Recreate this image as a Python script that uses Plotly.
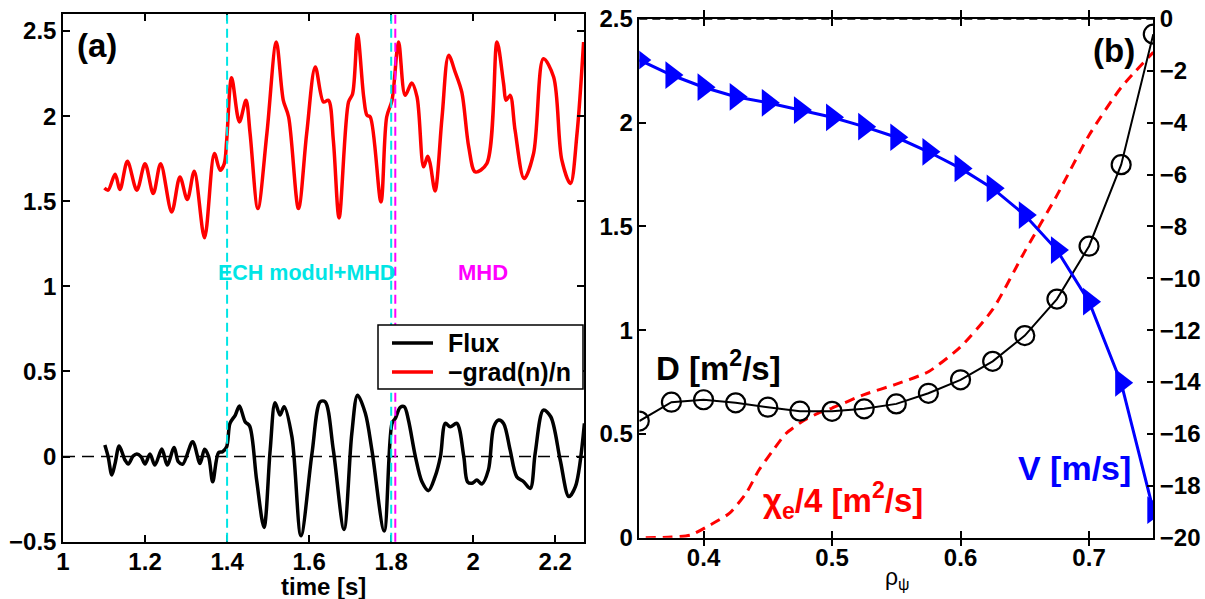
import plotly.graph_objects as go

# ---------------- Panel (a) data ----------------
t_grad = [1.101, 1.110, 1.127, 1.139, 1.157, 1.180, 1.200, 1.220, 1.238, 1.265,
          1.285, 1.303, 1.320, 1.345, 1.369, 1.383, 1.393, 1.399, 1.411, 1.430,
          1.446, 1.456, 1.475, 1.497, 1.520, 1.537, 1.550, 1.574, 1.594, 1.615,
          1.635, 1.647, 1.659, 1.673, 1.696, 1.706, 1.718, 1.733, 1.741, 1.749,
          1.775, 1.789, 1.802, 1.818, 1.834, 1.850, 1.863, 1.879, 1.889, 1.895,
          1.907, 1.924, 1.940, 1.956, 1.972, 1.989, 2.005, 2.033, 2.058, 2.074,
          2.080, 2.090, 2.102, 2.124, 2.147, 2.171, 2.196, 2.216, 2.237, 2.253,
          2.269]
grad = [1.578, 1.565, 1.658, 1.569, 1.735, 1.565, 1.721, 1.545, 1.721, 1.437,
        1.643, 1.510, 1.676, 1.285, 1.780, 1.682, 1.720, 1.858, 2.226, 1.966,
        2.093, 1.899, 1.457, 1.898, 2.435, 2.093, 1.995, 1.457, 1.898, 2.289,
        2.083, 2.093, 1.858, 1.402, 2.083, 2.132, 2.479, 2.113, 2.005, 1.995,
        1.496, 1.995, 2.093, 2.435, 2.122, 2.195, 2.113, 1.702, 1.764, 1.721,
        1.560, 1.995, 2.357, 2.259, 2.142, 1.819, 1.672, 1.721, 2.435, 2.191,
        2.093, 2.122, 1.917, 1.633, 1.780, 2.337, 2.230, 1.741, 1.604, 1.898,
        2.435]

t_flux = [1.102, 1.110, 1.119, 1.127, 1.137, 1.151, 1.159, 1.171, 1.180, 1.190,
          1.200, 1.212, 1.224, 1.241, 1.254, 1.271, 1.281, 1.292, 1.316, 1.334,
          1.345, 1.355, 1.365, 1.379, 1.389, 1.399, 1.407, 1.420, 1.430, 1.444,
          1.455, 1.472, 1.490, 1.505, 1.517, 1.529, 1.539, 1.558, 1.580, 1.607,
          1.627, 1.639, 1.659, 1.685, 1.704, 1.718, 1.737, 1.753, 1.783, 1.802,
          1.810, 1.822, 1.832, 1.842, 1.859, 1.875, 1.891, 1.907, 1.920, 1.932,
          1.944, 1.960, 1.977, 1.986, 1.997, 2.009, 2.021, 2.037, 2.050, 2.062,
          2.074, 2.090, 2.106, 2.123, 2.139, 2.151, 2.171, 2.189, 2.212, 2.233,
          2.249, 2.271]
flux = [0.068, 0.000, -0.108, -0.040, 0.062, -0.020, -0.044, 0.003, 0.015, 0.000,
        -0.044, 0.015, -0.050, 0.044, -0.050, 0.054, -0.030, -0.044, 0.087, -0.040,
        0.043, 0.000, -0.148, 0.023, 0.029, 0.058, 0.195, 0.244, 0.297, 0.205,
        0.179, -0.138, -0.416, 0.038, 0.316, 0.244, 0.293, 0.117, -0.465, 0.020,
        0.322, 0.322, 0.038, -0.428, 0.136, 0.361, 0.254, 0.038, -0.437, 0.195,
        0.224, 0.289, 0.293, 0.215, 0.000, -0.148, -0.200, -0.118, 0.000, 0.195,
        0.175, 0.195, 0.000, -0.148, -0.157, -0.138, -0.161, -0.078, 0.175, 0.215,
        0.195, 0.038, -0.118, -0.148, -0.187, 0.020, 0.273, 0.234, -0.020, -0.235,
        -0.177, 0.195]

series_names = ["Flux", "−grad(n)/n"]
series_colors = ["black", "red"]

events = [1.4, 1.8, 1.81]
event_colors = ["#00e5e5", "#00e5e5", "#ff00ff"]

xticks_a = [1, 1.2, 1.4, 1.6, 1.8, 2, 2.2]
yticks_a = [-0.5, 0, 0.5, 1, 1.5, 2, 2.5]

# ---------------- Panel (b) data ----------------
rho = [0.35, 0.375, 0.4, 0.425, 0.45, 0.475, 0.5, 0.525, 0.55, 0.575,
       0.6, 0.625, 0.65, 0.675, 0.7, 0.725, 0.75]
D = [0.562, 0.653, 0.665, 0.650, 0.629, 0.610, 0.609, 0.621, 0.645, 0.696,
     0.761, 0.850, 0.974, 1.150, 1.405, 1.798, 2.427]
V = [-1.58, -2.16, -2.63, -3.00, -3.23, -3.51, -3.79, -4.15, -4.56, -5.12,
     -5.76, -6.53, -7.56, -8.91, -10.90, -14.03, -18.94]
rho_chi = [0.355, 0.375, 0.39, 0.405, 0.42, 0.433, 0.443, 0.454, 0.464, 0.478,
           0.491, 0.50, 0.525, 0.55, 0.575, 0.60, 0.625, 0.65, 0.675, 0.70,
           0.725, 0.75]
chi = [0.0, 0.003, 0.013, 0.061, 0.117, 0.213, 0.325, 0.421, 0.501, 0.565,
       0.605, 0.625, 0.69, 0.74, 0.80, 0.92, 1.10, 1.38, 1.65, 1.94,
       2.17, 2.34]

xticks_b = [0.4, 0.5, 0.6, 0.7]
yticks_b = [0, 0.5, 1, 1.5, 2, 2.5]
yticks_v = [0, -2, -4, -6, -8, -10, -12, -14, -16, -18, -20]

# ---------------- Figure ----------------
FONT = "Liberation Sans, Arial, sans-serif"
W, H = 1205, 599

fig = go.Figure()

fig.add_trace(go.Scatter(x=t_flux, y=flux, name=series_names[0], mode="lines",
                         line=dict(color=series_colors[0], width=3.5, shape="spline", smoothing=0.9),
                         xaxis="x", yaxis="y", showlegend=False))
fig.add_trace(go.Scatter(x=t_grad, y=grad, name=series_names[1], mode="lines",
                         line=dict(color=series_colors[1], width=3.5, shape="spline", smoothing=0.9),
                         xaxis="x", yaxis="y", showlegend=False))

fig.add_trace(go.Scatter(x=rho_chi, y=chi, mode="lines", showlegend=False,
                         line=dict(color="red", width=3, dash="10px,7px", shape="spline", smoothing=0.6),
                         xaxis="x2", yaxis="y2"))
fig.add_trace(go.Scatter(x=rho, y=D, mode="lines+markers", showlegend=False,
                         line=dict(color="black", width=2),
                         marker=dict(symbol="circle-open", size=19, color="black", line=dict(width=2.2)),
                         xaxis="x2", yaxis="y2"))
fig.add_trace(go.Scatter(x=rho, y=V, mode="lines+markers", showlegend=False,
                         line=dict(color="blue", width=3),
                         marker=dict(symbol="triangle-right", size=24, color="blue"),
                         xaxis="x2", yaxis="y3"))

# event lines
for t, c in zip(events, event_colors):
    fig.add_shape(type="line", xref="x", yref="y domain", x0=t, x1=t, y0=0, y1=1,
                  line=dict(color=c, width=2, dash="9px,5px"))
# zero line panel a
fig.add_shape(type="line", xref="x domain", yref="y", x0=0, x1=1, y0=0, y1=0,
              line=dict(color="black", width=1.5, dash="12px,7px"), layer="below")
# zero line of V (top of panel b)
fig.add_shape(type="line", xref="x2 domain", yref="y3", x0=0, x1=1, y0=0, y1=0,
              line=dict(color="black", width=1.5, dash="8px,5px"))

tickfont = dict(family=FONT, size=24, color="black", weight="bold")
common = dict(showline=True, linecolor="black", linewidth=1.5, ticks="inside", ticklen=7,
              tickcolor="black", tickwidth=1.5, showgrid=False, zeroline=False,
              tickfont=tickfont, automargin=False)

fig.update_layout(
    width=W, height=H,
    margin=dict(l=0, r=0, t=0, b=0),
    paper_bgcolor="white", plot_bgcolor="white",
    font=dict(family=FONT, color="black"),
    xaxis=dict(domain=[63 / W, 584 / W], range=[1, 2.27], tickvals=xticks_a,
               anchor="y", mirror="allticks", ticklabelstandoff=-2, **common),
    yaxis=dict(domain=[1 - 541.7 / H, 1 - 14 / H], range=[-0.5, 2.6], tickvals=yticks_a,
               anchor="x", mirror="allticks", **common),
    xaxis2=dict(domain=[639.3 / W, 1153.3 / W], range=[0.35, 0.75], tickvals=xticks_b,
                anchor="y2", mirror="allticks", ticklabelstandoff=-2, **common),
    yaxis2=dict(domain=[1 - 537.7 / H, 1 - 19 / H], range=[0, 2.5], tickvals=yticks_b,
                anchor="x2", mirror=False, **common),
    yaxis3=dict(range=[-20, 0], tickvals=yticks_v, overlaying="y2", side="right",
                anchor="x2", mirror=False, **common),
    showlegend=False,
)

def px_x(x):
    return x / W

def px_y(y):
    return 1 - y / H

def ann(text, x, y, size, color="black", weight="bold", xanchor="center"):
    fig.add_annotation(text=text, x=px_x(x), y=px_y(y), xref="paper", yref="paper",
                       showarrow=False, xanchor=xanchor, yanchor="middle",
                       font=dict(family=FONT, size=size, color=color, weight=weight))

# legend box (drawn in paper space)
fig.add_shape(type="rect", xref="paper", yref="paper",
              x0=px_x(378), x1=px_x(583), y0=px_y(389), y1=px_y(325),
              line=dict(color="black", width=1.5), fillcolor="white", layer="above")
for i, (nm, col) in enumerate(zip(series_names, series_colors)):
    yy = 343 + 29 * i
    fig.add_shape(type="line", xref="paper", yref="paper",
                  x0=px_x(392), x1=px_x(433), y0=px_y(yy), y1=px_y(yy),
                  line=dict(color=col, width=3.5), layer="above")
    ann(nm, 446, yy, 25, xanchor="left")

ann("(a)", 97, 45, 33)
ann("(b)", 1114, 50, 33)
ann("ECH modul+MHD", 306, 273, 21.5, color="#00e5e5")
ann("MHD", 483, 272, 22, color="#ff00ff")
ann("time [s]", 323.5, 586, 24)
ann("ρ<sub>ψ</sub>", 897, 578, 23, weight="normal")
ann("D [m<sup>2</sup>/s]", 718, 366, 33)
ann("χ<sub>e</sub>/4 [m<sup>2</sup>/s]", 843, 500, 33, color="red")
ann("V [m/s]", 1074, 468, 34, color="blue")

fig.write_html("out.html")
